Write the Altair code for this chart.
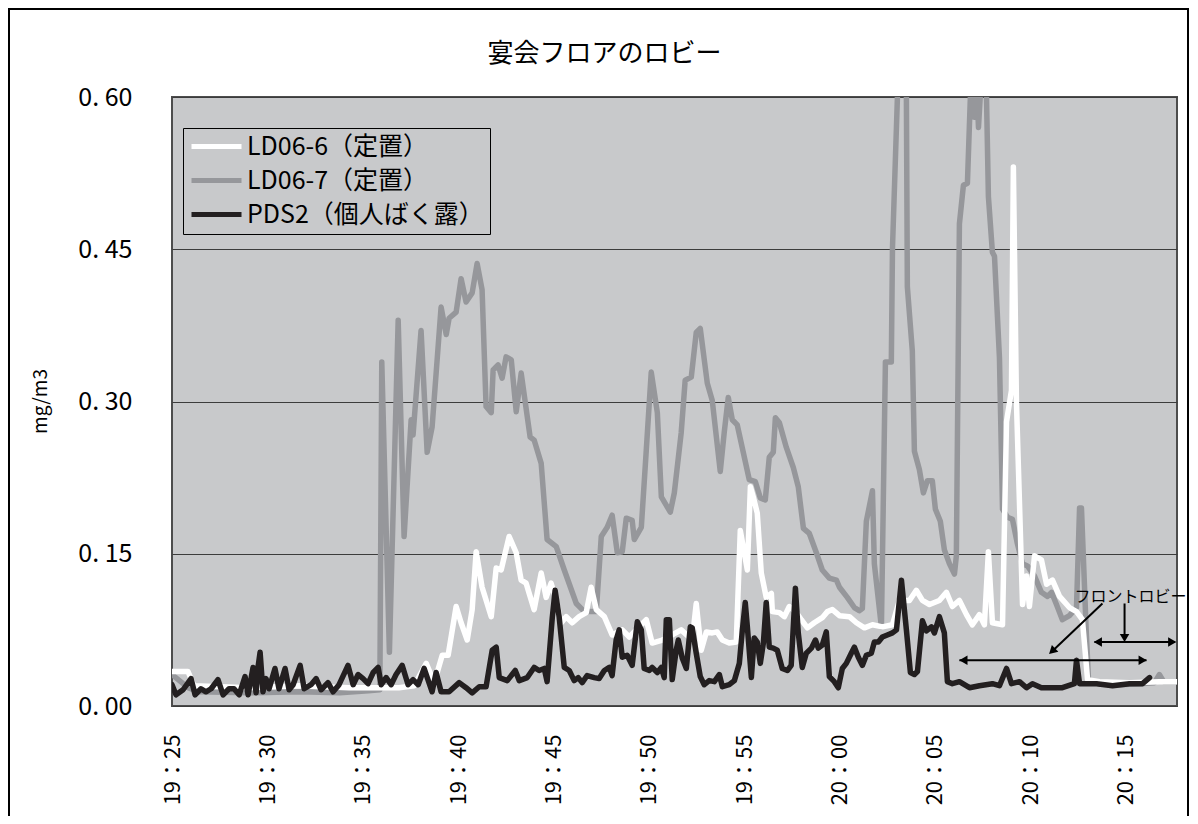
import altair as alt
import pandas as pd

FONT = "Noto Sans CJK JP"

# minutes after 19:25 and concentrations (mg/m3)
gray_t = [0, 0.84, 1.4, 4.0, 6.7, 8.8, 10.3, 10.9, 11.0, 11.4, 11.86, 12.17, 12.54, 12.64, 13.06, 13.38, 13.64,
          14.11, 14.38, 14.53, 14.9, 15.16, 15.42, 15.74, 16.0, 16.26, 16.47, 16.74, 16.84, 17.1, 17.31, 17.52,
          17.79, 18.05, 18.31, 18.78, 18.99, 19.36, 19.67, 20.15, 20.57, 21.2, 21.62, 22.25, 22.51, 22.82, 23.08,
          23.35, 23.61, 23.82, 24.13, 24.24, 24.61, 24.87, 25.13, 25.45, 25.66, 26.13, 26.34, 26.7, 26.91, 27.23,
          27.49, 27.7, 28.07, 28.33, 28.75, 28.96, 29.17, 29.38, 29.64, 29.85, 30.27, 30.59, 30.85, 31.11, 31.32,
          31.53, 31.64, 31.85, 32.21, 32.58, 32.84, 33.11, 33.42, 33.79, 34.1, 34.47, 34.84, 35.0, 35.41, 35.78,
          36.04, 36.2, 36.41, 36.73, 36.83, 37.2, 37.41, 37.72, 37.78, 38.04, 38.25, 38.51, 38.56, 38.82, 38.93,
          39.19, 39.4, 39.61, 39.87, 40.03, 40.29, 40.5, 40.77, 41.03, 41.13, 41.29, 41.5, 41.71, 41.92, 42.08,
          42.18, 42.29, 42.5, 42.71, 42.81, 43.02, 43.13, 43.39, 43.55, 43.81, 44.07, 44.33, 44.6, 44.86, 45.23,
          45.59, 45.91, 46.12, 46.38, 46.69, 47.06, 47.43, 47.59, 47.69, 47.95, 48.06, 48.64, 49.69, 50.73, 51.52,
          51.78, 52.0, 52.7]
gray_v = [0.031, 0.018, 0.014, 0.013, 0.014, 0.013, 0.015, 0.016, 0.339, 0.053, 0.380, 0.167, 0.282, 0.267, 0.370,
          0.250, 0.275, 0.393, 0.366, 0.382, 0.388, 0.421, 0.398, 0.407, 0.436, 0.410, 0.295, 0.289, 0.331, 0.336,
          0.323, 0.344, 0.341, 0.290, 0.328, 0.265, 0.262, 0.239, 0.164, 0.157, 0.134, 0.101, 0.093, 0.093, 0.167,
          0.176, 0.188, 0.151, 0.152, 0.185, 0.183, 0.164, 0.176, 0.252, 0.329, 0.289, 0.206, 0.191, 0.210, 0.269,
          0.321, 0.324, 0.368, 0.372, 0.318, 0.301, 0.231, 0.270, 0.304, 0.282, 0.277, 0.259, 0.223, 0.221, 0.205,
          0.203, 0.245, 0.250, 0.284, 0.279, 0.255, 0.235, 0.216, 0.175, 0.170, 0.151, 0.134, 0.126, 0.124, 0.117,
          0.107, 0.097, 0.094, 0.096, 0.182, 0.212, 0.140, 0.078, 0.339, 0.339, 0.451, 0.600, 0.680, 0.600, 0.413,
          0.350, 0.251, 0.233, 0.210, 0.222, 0.222, 0.194, 0.182, 0.154, 0.140, 0.130, 0.148, 0.475, 0.513, 0.515,
          0.630, 0.580, 0.620, 0.570, 0.640, 0.600, 0.502, 0.447, 0.443, 0.343, 0.194, 0.186, 0.184, 0.160, 0.140,
          0.138, 0.128, 0.112, 0.108, 0.112, 0.100, 0.085, 0.089, 0.097, 0.195, 0.195, 0.069, 0.026, 0.022, 0.021,
          0.022, 0.023, 0.031, 0.024, 0.024]

white_t = [0, 0.84, 1.15, 4.04, 6.66, 9.29, 11.9, 12.7, 13.33, 13.75, 14.17, 14.48, 14.9, 15.16, 15.48, 15.74, 15.95,
           16.26, 16.74, 17.0, 17.26, 17.68, 18.05, 18.31, 18.57, 18.73, 18.99, 19.36, 19.62, 19.88, 20.15, 20.41,
           20.67, 20.99, 21.35, 21.72, 21.98, 22.25, 22.67, 23.08, 23.61, 23.98, 24.34, 24.87, 25.18, 25.71, 26.23,
           26.7, 27.28, 27.49, 27.75, 28.02, 28.33, 28.59, 28.86, 29.22, 29.59, 29.8, 30.01, 30.17, 30.33, 30.48,
           30.69, 30.9, 31.16, 31.43, 31.48, 31.85, 32.11, 32.37, 32.74, 33.0, 33.32, 33.68, 34.1, 34.37, 34.63,
           35.0, 35.52, 35.89, 36.31, 36.73, 37.25, 37.78, 38.14, 38.67, 39.03, 39.35, 39.72, 40.24, 40.61, 40.92,
           41.29, 41.66, 41.97, 42.34, 42.6, 42.81, 43.02, 43.55, 43.76, 44.02, 44.12, 44.28, 44.6, 44.81, 44.96,
           45.23, 45.59, 45.86, 46.17, 46.54, 47.06, 47.43, 47.74, 48.01, 48.64, 50.21, 51.78, 52.7]
white_v = [0.034, 0.034, 0.020, 0.018, 0.020, 0.018, 0.018, 0.020, 0.042, 0.023, 0.050, 0.050, 0.098, 0.082, 0.065,
           0.095, 0.152, 0.117, 0.088, 0.136, 0.134, 0.167, 0.151, 0.124, 0.121, 0.111, 0.095, 0.131, 0.107, 0.121,
           0.104, 0.082, 0.088, 0.082, 0.088, 0.092, 0.117, 0.095, 0.088, 0.070, 0.075, 0.068, 0.075, 0.085, 0.062,
           0.065, 0.070, 0.075, 0.065, 0.101, 0.055, 0.073, 0.072, 0.073, 0.065, 0.062, 0.063, 0.173, 0.151, 0.134,
           0.216, 0.206, 0.190, 0.131, 0.107, 0.111, 0.093, 0.092, 0.088, 0.098, 0.092, 0.085, 0.077, 0.082, 0.087,
           0.093, 0.095, 0.089, 0.088, 0.082, 0.077, 0.080, 0.078, 0.080, 0.104, 0.104, 0.114, 0.104, 0.100, 0.104,
           0.112, 0.098, 0.104, 0.090, 0.080, 0.090, 0.080, 0.152, 0.082, 0.080, 0.280, 0.311, 0.531, 0.300, 0.100,
           0.128, 0.098, 0.148, 0.144, 0.120, 0.124, 0.108, 0.097, 0.093, 0.085, 0.026, 0.024, 0.023, 0.024, 0.024]

black_t = [0, 0.21, 0.58, 1.0, 1.21, 1.52, 1.78, 2.05, 2.41, 2.68, 2.99, 3.25, 3.52, 3.83, 3.99, 4.25, 4.41, 4.51,
           4.62, 4.77, 4.93, 5.09, 5.4, 5.61, 5.93, 6.14, 6.35, 6.72, 6.93, 7.29, 7.56, 7.82, 8.18, 8.45, 8.76, 9.23,
           9.5, 9.76, 10.02, 10.28, 10.55, 10.81, 10.97, 11.23, 11.49, 11.75, 12.07, 12.38, 12.64, 12.91, 13.22,
           13.64, 13.85, 14.11, 14.53, 15.06, 15.42, 15.74, 16.11, 16.47, 16.79, 17.0, 17.16, 17.58, 18.0, 18.21,
           18.63, 18.99, 19.25, 19.52, 19.67, 19.94, 20.09, 20.3, 20.57, 20.83, 21.09, 21.3, 21.51, 21.77, 22.14,
           22.4, 22.67, 22.93, 23.08, 23.29, 23.45, 23.61, 23.87, 24.13, 24.4, 24.61, 24.76, 25.03, 25.18, 25.45,
           25.66, 25.81, 25.92, 26.08, 26.23, 26.44, 26.55, 26.76, 26.97, 27.18, 27.28, 27.49, 27.7, 27.91, 28.17,
           28.44, 28.7, 28.86, 29.22, 29.49, 29.75, 29.91, 30.06, 30.17, 30.38, 30.53, 30.69, 30.85, 31.01, 31.16,
           31.32, 31.53, 31.74, 32.0, 32.27, 32.47, 32.69, 32.84, 33.05, 33.26, 33.53, 33.74, 33.89, 34.1, 34.31,
           34.47, 34.73, 34.94, 35.15, 35.36, 35.62, 35.78, 35.99, 36.2, 36.41, 36.67, 36.83, 37.04, 37.25, 37.51,
           37.78, 37.99, 38.25, 38.51, 38.72, 38.93, 39.09, 39.35, 39.56, 39.82, 39.98, 40.24, 40.5, 40.66, 40.92,
           41.29, 41.82, 42.34, 43.02, 43.39, 43.76, 44.02, 44.44, 44.81, 45.12, 45.59, 46.17, 46.69, 47.32, 47.43,
           47.59, 48.48, 49.32, 50.21, 50.89, 51.26]
black_v = [0.021, 0.011, 0.016, 0.027, 0.011, 0.017, 0.014, 0.017, 0.026, 0.011, 0.017, 0.017, 0.011, 0.029, 0.011,
           0.038, 0.013, 0.038, 0.053, 0.014, 0.027, 0.017, 0.037, 0.017, 0.037, 0.016, 0.021, 0.040, 0.017, 0.021,
           0.027, 0.016, 0.023, 0.014, 0.021, 0.040, 0.021, 0.031, 0.027, 0.022, 0.033, 0.038, 0.021, 0.028, 0.021,
           0.031, 0.040, 0.021, 0.026, 0.021, 0.037, 0.014, 0.033, 0.014, 0.014, 0.023, 0.018, 0.013, 0.019, 0.019,
           0.055, 0.058, 0.028, 0.025, 0.035, 0.025, 0.028, 0.038, 0.035, 0.037, 0.024, 0.087, 0.114, 0.088, 0.038,
           0.035, 0.025, 0.028, 0.023, 0.030, 0.028, 0.027, 0.035, 0.038, 0.030, 0.065, 0.075, 0.048, 0.050, 0.040,
           0.083, 0.075, 0.037, 0.035, 0.038, 0.033, 0.038, 0.028, 0.085, 0.085, 0.026, 0.055, 0.065, 0.047, 0.037,
           0.078, 0.077, 0.052, 0.029, 0.021, 0.025, 0.024, 0.031, 0.019, 0.021, 0.025, 0.042, 0.075, 0.102, 0.078,
           0.028, 0.067, 0.063, 0.042, 0.062, 0.102, 0.058, 0.057, 0.055, 0.037, 0.035, 0.040, 0.116, 0.072, 0.038,
           0.052, 0.057, 0.065, 0.057, 0.060, 0.073, 0.029, 0.024, 0.018, 0.037, 0.042, 0.052, 0.058, 0.048, 0.040,
           0.050, 0.052, 0.063, 0.063, 0.068, 0.070, 0.072, 0.075, 0.124, 0.075, 0.033, 0.031, 0.034, 0.084, 0.074,
           0.078, 0.072, 0.088, 0.072, 0.024, 0.022, 0.024, 0.018, 0.020, 0.022, 0.020, 0.037, 0.022, 0.024, 0.018,
           0.022, 0.018, 0.018, 0.018, 0.022, 0.045, 0.022, 0.022, 0.020, 0.022, 0.022, 0.028]

series_names = ["LD06-6（定置）", "LD06-7（定置）", "PDS2（個人ばく露）"]
series_colors = ["#ffffff", "#96979b", "#231f20"]

# annotation: arrows (minutes, mg/m3) and label
arrow_x = [41.29, 48.37, 48.79, 49.95]
arrow_x2 = [51.1, 52.6, 46.1, 49.95]
arrow_y = [0.045, 0.063, 0.101, 0.101]
arrow_y2 = [0.045, 0.063, 0.053, 0.066]
head_x = [41.5, 50.9, 48.55, 52.45, 46.15, 49.95]
head_y = [0.045, 0.045, 0.063, 0.063, 0.054, 0.067]
head_angle = [270, 90, 270, 90, 227, 180]
note_x = [47.32]
note_y = [0.107]
note_text = ["フロントロビー"]

y_ticks = [0, 0.15, 0.30, 0.45, 0.60]
x_ticks = [0, 5, 10, 15, 20, 25, 30, 35, 40, 45, 50]

df_gray = pd.DataFrame({"t": gray_t, "v": gray_v, "series": series_names[1]})
df_white = pd.DataFrame({"t": white_t, "v": white_v, "series": series_names[0]})
df_black = pd.DataFrame({"t": black_t, "v": black_v, "series": series_names[2]})
df_arrow = pd.DataFrame({"x": arrow_x, "x2": arrow_x2, "y": arrow_y, "y2": arrow_y2})
df_head = pd.DataFrame({"x": head_x, "y": head_y, "a": head_angle})
df_note = pd.DataFrame({"x": note_x, "y": note_y, "text": note_text})

xscale = alt.Scale(domain=[0, 52.7], nice=False, zero=False)
yscale = alt.Scale(domain=[0, 0.6], nice=False)

x_label_expr = ("(19 + floor((25 + datum.value) / 60)) + '：' + "
                "((((25 + datum.value) % 60) < 10) ? '0' : '') + ((25 + datum.value) % 60)")

x_enc = alt.X("t:Q", scale=xscale, axis=alt.Axis(
    values=x_ticks, labelExpr=x_label_expr, labelAngle=270, labelFontSize=22, labelFont=FONT,
    labelColor="#000000", labelPadding=28, ticks=False, grid=False, domain=False, title=None,
    labelOverlap=False))
y_enc = alt.Y("v:Q", scale=yscale, axis=alt.Axis(
    values=y_ticks, labelExpr="replace(format(datum.value, '.2f'), '.', '. ')", labelFontSize=25,
    labelFont=FONT, labelColor="#000000", labelPadding=40, ticks=False, domain=False,
    grid=True, gridColor="#3c3c3c", gridWidth=1,
    title="mg/m3", titleFont=FONT, titleFontSize=19, titleFontWeight="normal", titleColor="#000000",
    titleAngle=270, titleX=-132, titleY=304, titleAlign="center", titleBaseline="middle"))

color_enc = alt.Color("series:N", scale=alt.Scale(domain=series_names, range=series_colors),
                      legend=alt.Legend(title=None, orient="none", legendX=11, legendY=31,
                                        symbolType="M-1,0H4", symbolSize=400, symbolStrokeWidth=5,
                                        labelFontSize=25, labelFont=FONT, labelColor="#000000",
                                        labelLimit=500, labelOffset=33, strokeColor="#000000",
                                        fillColor="#c8c9cb", padding=6, rowPadding=8))


def series_line(df):
    return alt.Chart(df).mark_line(strokeWidth=5.5, clip=True, strokeJoin="round", strokeCap="round").encode(
        x=x_enc, y=y_enc, color=color_enc)


arrows = alt.Chart(df_arrow).mark_rule(color="#000000", strokeWidth=2).encode(
    x="x:Q", x2="x2:Q", y="y:Q", y2="y2:Q")
heads = alt.Chart(df_head).mark_point(shape="triangle-up", filled=True, color="#000000", size=90,
                                      opacity=1).encode(
    x="x:Q", y="y:Q", angle=alt.Angle("a:Q", scale=None))
note = alt.Chart(df_note).mark_text(align="left", baseline="middle", fontSize=16, font=FONT,
                                    color="#000000").encode(x="x:Q", y="y:Q", text="text:N")
frame = alt.Chart(df_note).mark_rect(fillOpacity=0, stroke="#000000", strokeWidth=2).encode(
    x=alt.value(-163), x2=alt.value(1016), y=alt.value(-88), y2=alt.value(800))

chart = alt.layer(
    series_line(df_gray), series_line(df_white), series_line(df_black), arrows, heads, note, frame
).properties(
    width=1005, height=609,
    autosize=alt.AutoSizeParams(type="none"),
    padding={"left": 164, "top": 89, "right": 13, "bottom": 110},
    background="#ffffff",
    title=alt.TitleParams("宴会フロアのロビー", font=FONT, fontSize=26, fontWeight="normal",
                          color="#000000", offset=0, dy=59, dx=6, anchor="middle", frame="bounds"),
).configure_view(fill="#c8c9cb", stroke="#4d4d4d", strokeWidth=2)

chart.save("out.html", embed_options={"renderer": "svg", "actions": False})
